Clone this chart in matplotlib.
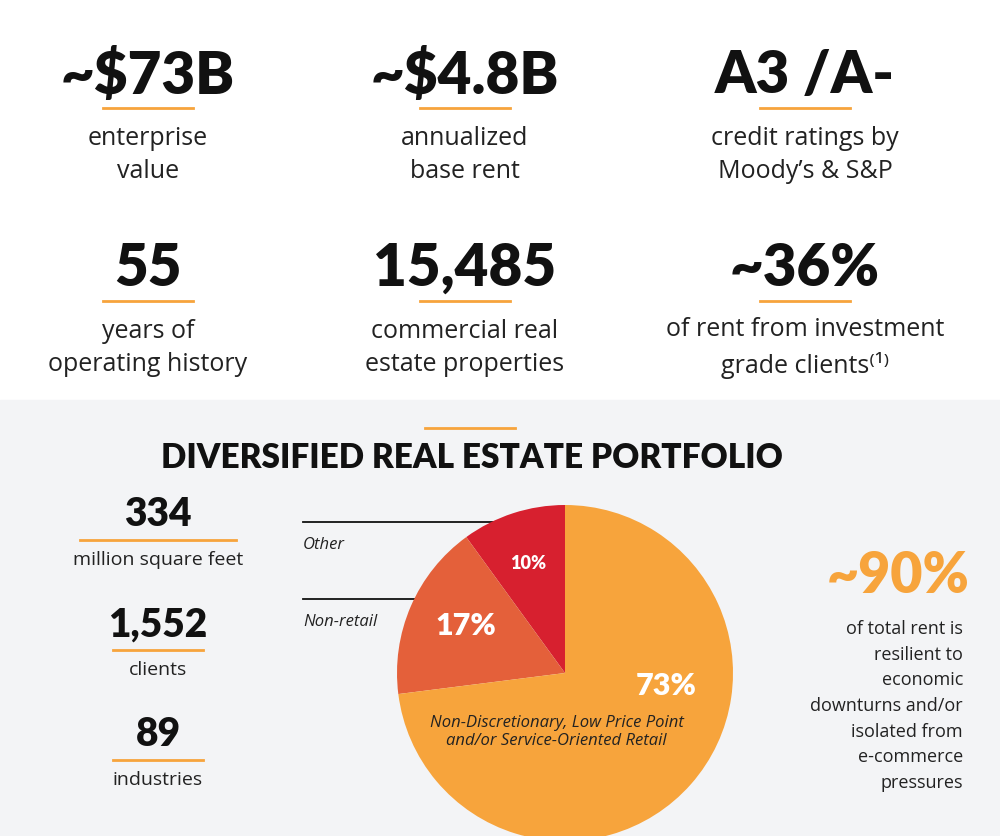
import matplotlib.pyplot as plt
from matplotlib.patches import Rectangle

# headline stats
stat_values = ["~$73B", "~$4.8B", "A3 /A-", "55", "15,485", "~36%"]
stat_labels = ["enterprise\nvalue", "annualized\nbase rent", "credit ratings by\nMoody\u2019s & S&P",
               "years of\noperating history", "commercial real\nestate properties",
               "of rent from investment\ngrade clients\u207d\u00b9\u207e"]

side_values = ["334", "1,552", "89"]
side_labels = ["million square feet", "clients", "industries"]

pie_labels = ["Other", "Non-retail", "Non-Discretionary, Low Price Point\nand/or Service-Oriented Retail"]
pie_shares = [10, 17, 73]
pie_colors = ["#D7202F", "#E4603A", "#F7A43C"]

ORANGE = "#F7A43C"
HEAVY = dict(family="Lato", weight="heavy")
BODY = dict(family="Open Sans")

fig = plt.figure(figsize=(10, 8.36), dpi=100)
ax = fig.add_axes([0, 0, 1, 1])
ax.set_xlim(0, 1000)
ax.set_ylim(836, 0)
ax.axis("off")
ax.add_patch(Rectangle((0, 400), 1000, 436, color="#F3F4F6", zorder=0))

cols = [148, 465, 805]
for i, (v, lab) in enumerate(zip(stat_values, stat_labels)):
    x = cols[i % 3]
    y0 = 75 if i < 3 else 268
    ax.text(x, y0, v, ha="center", va="center", fontsize=42, color="#111111", **HEAVY)
    ax.plot([x - 45, x + 45], [y0 + 33, y0 + 33], color=ORANGE, lw=2)
    ax.text(x, y0 + 80, lab, ha="center", va="center", fontsize=18, color="#222222",
            linespacing=1.45, family=["Open Sans", "DejaVu Sans"])

ax.plot([425, 515], [428, 428], color=ORANGE, lw=2)
ax.text(472, 458, "DIVERSIFIED REAL ESTATE PORTFOLIO", ha="center", va="center",
        fontsize=24, color="#111111", **HEAVY)

for i, (v, lab) in enumerate(zip(side_values, side_labels)):
    y0 = 515 + i * 110
    ax.text(158, y0, v, ha="center", va="center", fontsize=28, color="#111111", **HEAVY)
    w = 78 if i == 0 else 45
    ax.plot([158 - w, 158 + w], [y0 + 25, y0 + 25], color=ORANGE, lw=2)
    ax.text(158, y0 + 45, lab, ha="center", va="center", fontsize=14, color="#222222", **BODY)

ax.text(898, 576, "~90%", ha="center", va="center", fontsize=40, color=ORANGE, **HEAVY)
ax.text(963, 706, "of total rent is\nresilient to\neconomic\ndownturns and/or\nisolated from\ne-commerce\npressures",
        ha="right", va="center", fontsize=13, color="#222222", linespacing=1.55, **BODY)

# pie
pax = fig.add_axes([397 / 1000, (836 - 841) / 836, 336 / 1000, 336 / 836])
wedges, _ = pax.pie(pie_shares, colors=pie_colors, startangle=90, counterclock=True)
pax.set_xlim(-1, 1)
pax.set_ylim(-1, 1)
pax.set_aspect("equal")
pax.text(-0.22, 0.65, "10%", ha="center", va="center", fontsize=13, color="white", **HEAVY)
pax.text(-0.59, 0.28, "17%", ha="center", va="center", fontsize=22, color="white", **HEAVY)
pax.text(0.60, -0.08, "73%", ha="center", va="center", fontsize=22, color="white", **HEAVY)
pax.text(-0.05, -0.35, pie_labels[2], ha="center", va="center", fontsize=12,
         style="italic", color="#222222", **BODY)

# leader lines
ax.plot([303, 521], [522, 522], color="#111111", lw=1.3)
ax.plot(521, 522, "o", color="#111111", ms=6)
ax.text(303, 545, pie_labels[0], ha="left", va="center", fontsize=12, style="italic", color="#222222", **BODY)
ax.plot([303, 437], [599, 599], color="#111111", lw=1.3)
ax.plot(437, 599, "o", color="#111111", ms=6)
ax.text(303, 622, pie_labels[1], ha="left", va="center", fontsize=12, style="italic", color="#222222", **BODY)

fig.savefig("out.png", dpi=100)
